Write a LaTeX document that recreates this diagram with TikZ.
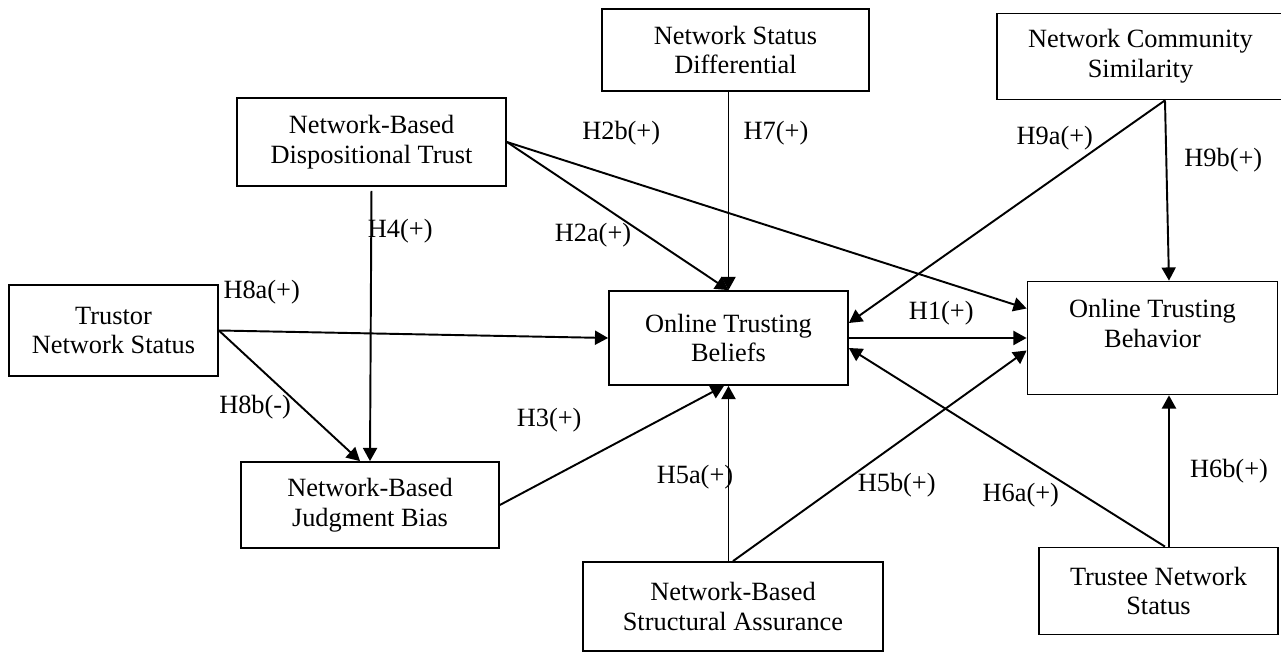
\documentclass[tikz,border=0pt]{standalone}
\usepackage{fontspec}
\setmainfont{Liberation Serif}
\usepackage{tikz}
\usetikzlibrary{arrows.meta}
\tikzstyle{construct} = [rectangle, draw=black, line width=1pt, align=center, font=\fontsize{15}{17}\selectfont]
\tikzstyle{hyp} = [font=\fontsize{15}{17}\selectfont, inner sep=0pt]
\tikzstyle{arrow} = [line width=1.1pt, -{Triangle[length=7.5pt, width=8pt]}]

\begin{document}
\begin{tikzpicture}
	\useasboundingbox (-14.57,6.76) rectangle (11.05,-6.3);
	\node (otb) [construct, minimum width=4.78cm, minimum height=1.88cm] {Online Trusting\\Beliefs};
	\node (otbh) [construct, right of=otb, node distance=8.48cm, minimum width=5cm, minimum height=2.26cm] {Online Trusting\\Behavior\\~};
	\node (nsd) [construct, above of=otb, node distance=5.76cm, xshift=0.14cm, minimum width=5.34cm, minimum height=1.64cm] {Network Status\\Differential};
	\node (ncs) [construct, above of=otbh, node distance=5.63cm, xshift=-0.24cm, minimum width=5.74cm, minimum height=1.72cm] {Network Community\\Similarity};
	\node (tee) [construct, below of=otbh, node distance=5.06cm, xshift=0.12cm, minimum width=4.78cm, minimum height=1.74cm] {Trustee Network\\Status};
	\node (nbsa) [construct, below of=otb, node distance=5.37cm, xshift=0.09cm, minimum width=6cm, minimum height=1.78cm] {Network-Based\\Structural Assurance};
	\node (nbdt) [construct, left of=otb, node distance=7.14cm, yshift=3.92cm, minimum width=5.38cm, minimum height=1.76cm] {Network-Based\\Dispositional Trust};
	\node (nbjb) [construct, below of=nbdt, node distance=7.26cm, xshift=-0.03cm, minimum width=5.16cm, minimum height=1.72cm] {Network-Based\\Judgment Bias};
	\node (tor) [construct, left of=otb, node distance=12.3cm, yshift=0.15cm, minimum width=4.18cm, minimum height=1.82cm] {Trustor\\Network Status};

	\draw [arrow] (nbdt.east) -- node (h2b) [hyp, pos=0.22, yshift=0.9cm] {H2b(+)} ([yshift=0.59cm]otbh.west);
	\draw [arrow] (nbdt.east) -- node (h2a) [hyp, pos=0.63, xshift=-1.07cm] {H2a(+)} (otb.north);
	\draw [arrow] (nsd.south -| otb.north) -- node (h7) [hyp, pos=0.21, xshift=0.95cm] {H7(+)} (otb.north);
	\draw [arrow] ([xshift=0.49cm]ncs.south) -- node (h9a) [hyp, pos=0.17, xshift=-1.13cm] {H9a(+)} ([yshift=0.3cm]otb.east);
	\draw [arrow] ([xshift=0.49cm]ncs.south) -- node (h9b) [hyp, pos=0.33, xshift=1.14cm] {H9b(+)} ([xshift=0.33cm]otbh.north);
	\draw [arrow] (otb.east) -- node (h1) [hyp, pos=0.52, yshift=0.5cm] {H1(+)} (otbh.west);
	\draw [arrow] (tor.east) -- node (h8a) [hyp, pos=0.11, yshift=0.79cm] {H8a(+)} (otb.west);
	\draw [arrow] (tor.east) -- node (h8b) [hyp, pos=0.59, xshift=-0.94cm] {H8b(-)} ([xshift=-0.2cm]nbjb.north);
	\draw [arrow, shorten <=0.08cm] (nbdt.south) -- node (h4) [hyp, pos=0.16, xshift=0.58cm] {H4(+)} (nbjb.north);
	\draw [arrow] (nbjb.east) -- node (h3) [hyp, pos=0.22, yshift=1.17cm] {H3(+)} ([xshift=-0.09cm]otb.south);
	\draw [arrow] (nbsa.north -| otb.south) -- node (h5a) [hyp, pos=0.48, xshift=-0.67cm] {H5a(+)} (otb.south);
	\draw [arrow] (nbsa.north) -- node (h5b) [hyp, pos=0.36, xshift=1.16cm] {H5b(+)} ([yshift=-0.25cm]otbh.west);
	\draw [arrow] ([xshift=0.13cm]tee.north) -- node (h6a) [hyp, pos=0.26, xshift=-1.24cm] {H6a(+)} ([yshift=-0.2cm]otb.east);
	\draw [arrow] ([xshift=0.21cm]tee.north) -- node (h6b) [hyp, pos=0.5, xshift=1.2cm] {H6b(+)} ([xshift=0.33cm]otbh.south);

\end{tikzpicture}
\end{document}
